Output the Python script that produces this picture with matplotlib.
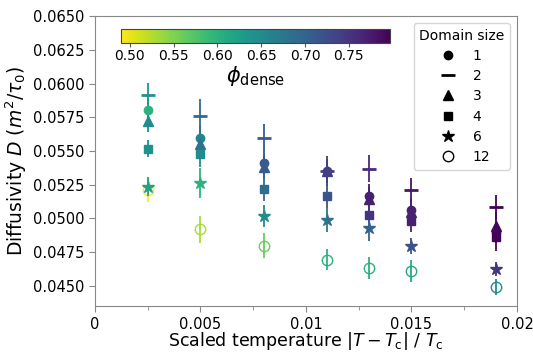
import numpy as np
import matplotlib
matplotlib.use("Agg")
import matplotlib.pyplot as plt
from matplotlib.lines import Line2D
from matplotlib.ticker import FixedLocator, FuncFormatter, MultipleLocator
import matplotlib.colors as mcolors
import matplotlib.cm as cm

# ---- data ----
temps = [0.0025, 0.005, 0.008, 0.011, 0.013, 0.015, 0.019]
domain_sizes = ["1", "2", "3", "4", "6", "12"]

D_size1 = [0.05807, 0.05598, 0.05414, 0.05352, 0.05163, 0.05064, 0.04900]
D_size2 = [0.05917, 0.05763, 0.05598, 0.05352, 0.05370, 0.05212, 0.05082]
D_size3 = [0.05721, 0.05549, 0.05381, 0.05352, 0.05143, 0.05050, 0.04946]
D_size4 = [0.05517, 0.05475, 0.05222, 0.05167, 0.05025, 0.04983, 0.04860]
D_size6 = [0.05237, 0.05261, 0.05020, 0.04990, 0.04927, 0.04799, 0.04627]
D_size12 = [0.05210, 0.04922, 0.04799, 0.04696, 0.04632, 0.04610, 0.04492]

err_size1 = [0.0008, 0.0009, 0.0009, 0.0009, 0.0009, 0.0008, 0.0008]
err_size2 = [0.0009, 0.0012, 0.0010, 0.0011, 0.0010, 0.0009, 0.0009]
err_size3 = [0.0008, 0.0009, 0.0009, 0.0009, 0.0009, 0.0008, 0.0010]
err_size4 = [0.00065, 0.0009, 0.0009, 0.0009, 0.0009, 0.0008, 0.0010]
err_size6 = [0.0007, 0.0011, 0.0008, 0.0009, 0.0009, 0.0006, 0.0005]
err_size12 = [0.0009, 0.0010, 0.0009, 0.0008, 0.0008, 0.0008, 0.0006]

phi_size1 = [0.60, 0.66, 0.71, 0.74, 0.77, 0.77, 0.79]
phi_size2 = [0.64, 0.69, 0.71, 0.74, 0.76, 0.78, 0.797]
phi_size3 = [0.65, 0.68, 0.71, 0.74, 0.77, 0.77, 0.79]
phi_size4 = [0.64, 0.65, 0.69, 0.72, 0.75, 0.77, 0.795]
phi_size6 = [0.62, 0.60, 0.65, 0.68, 0.70, 0.72, 0.75]
phi_size12 = [0.49, 0.53, 0.56, 0.60, 0.60, 0.61, 0.65]

phi_min, phi_max = 0.49, 0.797
xticks = [0, 0.005, 0.01, 0.015, 0.02]
xticklabels = ["0", "0.005", "0.01", "0.015", "0.02"]
yticks = [0.0450, 0.0475, 0.0500, 0.0525, 0.0550, 0.0575, 0.0600, 0.0625, 0.0650]
cbar_ticks = [0.50, 0.55, 0.60, 0.65, 0.70, 0.75]

series = [
    (D_size1, err_size1, phi_size1, "o", 6, True),
    (D_size2, err_size2, phi_size2, "_", 10, True),
    (D_size3, err_size3, phi_size3, "^", 7, True),
    (D_size4, err_size4, phi_size4, "s", 6, True),
    (D_size6, err_size6, phi_size6, "*", 9, True),
    (D_size12, err_size12, phi_size12, "o", 7.5, False),
]

fig = plt.figure(figsize=(5.33, 3.52), dpi=100)
ax = fig.add_axes([0.178, 0.13, 0.792, 0.8245])

norm = mcolors.Normalize(vmin=phi_min, vmax=phi_max)
cmap = plt.get_cmap("viridis_r")

for si, (D, err, phi, mk, ms, filled) in enumerate(series):
    z = 2 if filled else 1.5
    for x, d, e, p in zip(temps, D, err, phi):
        c = cmap(norm(p))
        ax.errorbar(x, d, yerr=e, fmt=mk, color=c, ecolor=c, elinewidth=1.3,
                    capsize=0, markersize=ms,
                    markerfacecolor=(c if filled else "none"),
                    markeredgecolor=c, markeredgewidth=(2 if mk == "_" else 1),
                    zorder=z)

ax.set_xlim(0, 0.02)
ax.set_ylim(0.0435, 0.065)
ax.xaxis.set_major_locator(FixedLocator(xticks))
ax.set_xticklabels(xticklabels)
ax.xaxis.set_minor_locator(MultipleLocator(0.0025))
ax.yaxis.set_major_locator(FixedLocator(yticks))
ax.yaxis.set_major_formatter(FuncFormatter(lambda v, p: f"{v:.4f}"))

for s in ax.spines.values():
    s.set_color("#888888")
ax.tick_params(axis="both", which="both", colors="#888888", labelcolor="black",
               labelsize=10.5)
ax.tick_params(axis="both", which="major", length=4)
ax.tick_params(axis="x", which="minor", length=3)

ax.set_xlabel(r"Scaled temperature $|T-T_{\rm c}|\ /\ T_{\rm c}$", fontsize=12.5, labelpad=-1)
ax.set_ylabel(r"Diffusivity $D\ (m^2/\tau_0)$", fontsize=13.5, labelpad=3)

# legend
handles = []
for (D, err, phi, mk, ms, filled), lab in zip(series, domain_sizes):
    handles.append(Line2D([], [], linestyle="none", marker=mk, markersize=ms,
                          color="black",
                          markerfacecolor=("black" if filled else "none"),
                          markeredgecolor="black",
                          markeredgewidth=(2 if mk == "_" else 1)))
leg = ax.legend(handles, domain_sizes, title="Domain size", loc="upper right",
                fontsize=10, title_fontsize=10, handletextpad=0.8,
                labelspacing=0.45, borderaxespad=0.5, handlelength=2.0)

# colorbar inset
cax = fig.add_axes([121 / 533, 1 - 43 / 352, (390 - 121) / 533, 14 / 352])
sm = cm.ScalarMappable(norm=norm, cmap=cmap)
cb = fig.colorbar(sm, cax=cax, orientation="horizontal")
cb.set_ticks(cbar_ticks)
cb.ax.xaxis.set_major_formatter(FuncFormatter(lambda v, p: f"{v:.2f}"))
cb.ax.tick_params(labelsize=10, colors="#555555", labelcolor="black", length=3, pad=1)
cb.outline.set_edgecolor("#444444")
cb.set_label(r"$\phi_{\rm dense}$", fontsize=15, labelpad=1)

fig.savefig("out.png", dpi=100)
